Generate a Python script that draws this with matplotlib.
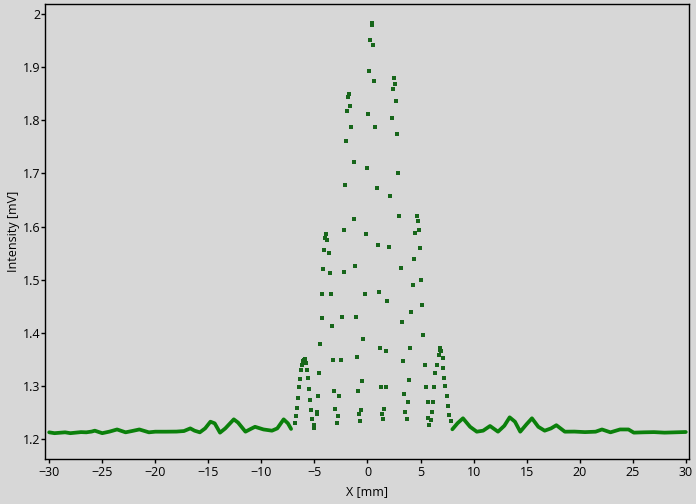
import matplotlib
matplotlib.use("Agg")
import matplotlib.pyplot as plt

plt.rcParams['font.family'] = ['Open Sans', 'DejaVu Sans']

# outer part of the scan (dense, drawn as a thick trace)
left_x = [-30.0, -29.5, -29.0, -28.5, -28.0, -27.5, -27.0, -26.5, -26.0, -25.7, -25.0,
          -24.3, -23.6, -22.8, -22.2, -21.5, -20.6, -20.0, -19.0, -18.0, -17.3, -16.7,
          -16.3, -15.8, -15.3, -14.8, -14.4, -13.9, -13.4, -12.6, -12.2, -11.5, -11.0,
          -10.6, -9.8, -9.0, -8.5, -7.9, -7.5, -7.2]
left_y = [1.2126, 1.2110, 1.2118, 1.2126, 1.2110, 1.2120, 1.2130, 1.2126, 1.2140, 1.2157, 1.2110,
          1.2140, 1.2180, 1.2126, 1.2150, 1.2180, 1.2126, 1.2138, 1.2138, 1.2140, 1.2150, 1.2200,
          1.2157, 1.2126, 1.2200, 1.2326, 1.2295, 1.2120, 1.2200, 1.2370, 1.2310, 1.2138, 1.2190,
          1.2230, 1.2180, 1.2157, 1.2200, 1.2370, 1.2295, 1.2190]

right_x = [8.0, 8.5, 9.0, 9.67, 10.3, 10.9, 11.55, 12.3, 12.9, 13.4, 13.9, 14.4, 15.0,
           15.5, 16.1, 16.7, 17.3, 17.8, 18.6, 19.5, 20.5, 21.5, 22.1, 22.9, 23.8, 24.6,
           25.1, 26.0, 27.0, 28.0, 29.0, 30.0]
right_y = [1.2183, 1.2300, 1.2390, 1.2230, 1.2138, 1.2157, 1.2245, 1.2138, 1.2250, 1.2408,
           1.2326, 1.2138, 1.2280, 1.2390, 1.2230, 1.2157, 1.2200, 1.2260, 1.2138, 1.2140,
           1.2130, 1.2138, 1.2180, 1.2126, 1.2180, 1.2180, 1.2120, 1.2126, 1.2130, 1.2120,
           1.2126, 1.2132]

# central fringe region (sparse samples, drawn as dots)
dot_x = [0.38, 0.43, 0.27, 0.56, 0.18, 0.65, 2.54, 2.63, 2.44, 2.72, -1.71, -1.80, -1.61, -1.89,
         0.08, 2.35, -1.52, 0.74, 2.82, -1.99, -1.29, -0.01, 2.91, -2.08, 0.93, 2.16, 3.01, 4.70,
         4.74, -1.26, -2.18, -0.13, -3.87, -3.97, -3.78, 4.89, 4.51, 1.03, 2.06, 4.99, -4.06,
         -3.59, 4.42, -4.18, -3.50, -2.23, -1.14, 3.20, 5.08, 4.33, -4.28, -3.40, -0.20, 1.12,
         1.88, 5.17, 4.14, -4.31, -2.37, -1.05, 3.29, -3.31, -0.39, 5.27, -4.44, 1.22, 1.78,
         4.04, -3.21, -2.49, -0.95, 3.38, 5.46, -4.53, -4.63, -4.72, -4.78, -3.12, -2.65, -3.05,
         -2.74, -2.89, -0.48, -0.86, -0.60, -0.76, -0.67, 1.28, 1.72, 1.59, 1.40, 1.50, 3.95,
         3.48, 3.85, 3.54, 3.76,
         -5.95, -5.79, -6.14, -5.66, -6.26, -5.57, -6.35, -5.48, -6.45, -6.51, -5.38, -6.64,
         -5.29, -6.73, -5.19, -6.82, -5.03, -5.00, -6.05, -5.88,
         6.84, 6.84, 6.72, 7.10, 6.59, 7.15, 6.40, 7.25, 6.28, 7.34, 5.55, 6.21, 7.47, 5.68,
         7.57, 6.09, 7.72, 5.74, 6.02, 5.83, 7.85, 6.93]
dot_y = [1.983, 1.979, 1.951, 1.942, 1.893, 1.874, 1.879, 1.868, 1.858, 1.836, 1.849, 1.843,
         1.827, 1.817, 1.811, 1.805, 1.787, 1.787, 1.774, 1.761, 1.721, 1.710, 1.700, 1.679,
         1.673, 1.657, 1.620, 1.620, 1.610, 1.615, 1.593, 1.586, 1.585, 1.579, 1.575, 1.593,
         1.587, 1.565, 1.561, 1.559, 1.556, 1.551, 1.538, 1.520, 1.513, 1.514, 1.526, 1.522,
         1.499, 1.489, 1.473, 1.473, 1.473, 1.477, 1.460, 1.452, 1.439, 1.428, 1.429, 1.430,
         1.420, 1.412, 1.388, 1.396, 1.379, 1.371, 1.366, 1.371, 1.349, 1.349, 1.354, 1.347,
         1.339, 1.324, 1.281, 1.248, 1.250, 1.290, 1.281, 1.256, 1.243, 1.231, 1.309, 1.290,
         1.254, 1.248, 1.233, 1.297, 1.298, 1.256, 1.248, 1.237, 1.312, 1.284, 1.270, 1.250,
         1.237,
         1.349, 1.344, 1.339, 1.330, 1.330, 1.314, 1.313, 1.294, 1.297, 1.277, 1.273, 1.258,
         1.254, 1.244, 1.237, 1.231, 1.226, 1.221, 1.347, 1.350,
         1.368, 1.371, 1.358, 1.352, 1.339, 1.334, 1.324, 1.315, 1.297, 1.300, 1.298, 1.270,
         1.281, 1.269, 1.263, 1.250, 1.245, 1.239, 1.236, 1.226, 1.234, 1.365]

x_ticks = [-30, -25, -20, -15, -10, -5, 0, 5, 10, 15, 20, 25, 30]
y_ticks = [1.2, 1.3, 1.4, 1.5, 1.6, 1.7, 1.8, 1.9, 2.0]
y_tick_labels = ['1.2', '1.3', '1.4', '1.5', '1.6', '1.7', '1.8', '1.9', '2']

bg = '#d7d7d7'
green = '#0b800b'

fig = plt.figure(figsize=(6.96, 5.04), dpi=100, facecolor=bg)
ax = fig.add_axes([0.0647, 0.0893, 0.9252, 0.9027], facecolor=bg)

ax.plot(left_x, left_y, '-', color=green, lw=2.7, solid_capstyle='round', solid_joinstyle='round')
ax.plot(right_x, right_y, '-', color=green, lw=2.7, solid_capstyle='round', solid_joinstyle='round')
ax.plot(dot_x, dot_y, 's', color='#17661a', ms=2.5, mew=0)

ax.set_xlim(-30.39, 30.3)
ax.set_ylim(1.1624, 2.0188)
ax.set_xticks(x_ticks)
ax.set_yticks(y_ticks)
ax.set_yticklabels(y_tick_labels)
ax.tick_params(direction='out', length=3, width=1, labelsize=9, colors='black')
ax.tick_params(axis='y', pad=0.5)
ax.tick_params(axis='x', pad=2)
for s in ax.spines.values():
    s.set_color('black')
    s.set_linewidth(1)

ax.set_xlabel('X [mm]', fontsize=9, labelpad=4.5)
ax.set_ylabel('Intensity [mV]', fontsize=9, labelpad=2)

fig.savefig('out.png', dpi=100, facecolor=bg)
